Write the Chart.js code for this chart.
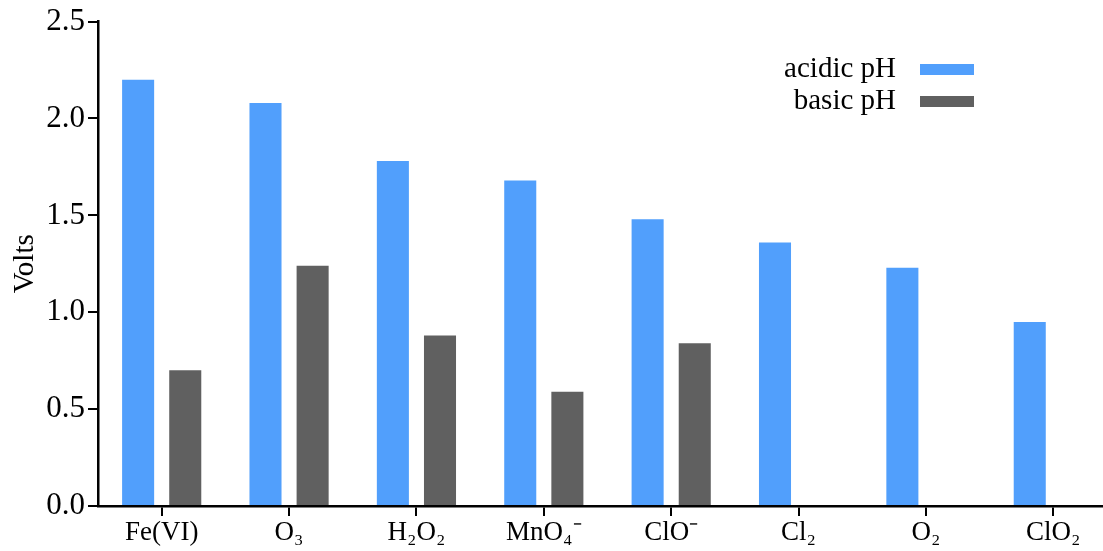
<!DOCTYPE html>
<html>
<head>
<meta charset="utf-8">
<script src="https://cdn.jsdelivr.net/npm/chart.js@4/dist/chart.umd.min.js"></script>
<style>
  html, body { margin: 0; padding: 0; background: #fff; overflow: hidden; }
  #wrap { width: 1120px; height: 551px; }
</style>
</head>
<body>
<div id="wrap"><canvas id="chart" width="1120" height="551"></canvas></div>
<script>
const categories = ['Fe(VI)', 'O₃', 'H₂O₂', 'MnO₄⁻', 'ClO⁻', 'Cl₂', 'O₂', 'ClO₂'];
const acidicValues = [2.20, 2.08, 1.78, 1.68, 1.48, 1.36, 1.23, 0.95];
const basicValues = [0.70, 1.24, 0.88, 0.59, 0.84, null, null, null];
const yTicks = [0, 0.5, 1.0, 1.5, 2.0, 2.5];

const serif = '"Liberation Serif", "Times New Roman", serif';

// legend drawn as text on the left, colour bar on the right
const sideLegend = {
    id: 'sideLegend',
    afterDraw(chart) {
        const ctx = chart.ctx;
        const rows = [69, 101];
        ctx.save();
        ctx.font = '29px ' + serif;
        ctx.textAlign = 'right';
        ctx.textBaseline = 'middle';
        chart.data.datasets.forEach((ds, i) => {
            ctx.fillStyle = '#000';
            ctx.fillText(ds.label, 896, rows[i]);
            ctx.fillStyle = ds.backgroundColor;
            ctx.fillRect(920, rows[i] - 5, 54, 11);
        });
        ctx.restore();
    }
};

const ctx = document.getElementById('chart').getContext('2d');
new Chart(ctx, {
    type: 'bar',
    data: {
        labels: categories,
        datasets: [{
            label: 'acidic pH',
            data: acidicValues,
            backgroundColor: '#519FFC',
            categoryPercentage: 0.74,
            barPercentage: 0.68
        }, {
            label: 'basic pH',
            data: basicValues,
            backgroundColor: '#606060',
            categoryPercentage: 0.74,
            barPercentage: 0.68
        }]
    },
    options: {
        responsive: false,
        animation: false,
        layout: { padding: { top: 8, right: 3, left: 0, bottom: 0 } },
        plugins: {
            legend: { display: false },
            tooltip: { enabled: false }
        },
        scales: {
            x: {
                grid: {
                    offset: false,
                    drawOnChartArea: false,
                    tickLength: 10,
                    tickColor: '#000',
                    lineWidth: 2
                },
                border: { color: '#000', width: 2.5 },
                ticks: {
                    color: '#000',
                    font: { family: serif, size: 27 },
                    padding: 1,
                    maxRotation: 0,
                    autoSkip: false
                },
                afterFit(scale) { scale.height = 45; }
            },
            y: {
                min: 0,
                max: 2.5,
                afterBuildTicks(scale) {
                    scale.ticks = yTicks.map(v => ({ value: v }));
                },
                grid: {
                    drawOnChartArea: false,
                    tickLength: 10,
                    tickColor: '#000',
                    lineWidth: 2
                },
                border: { color: '#000', width: 2.5 },
                ticks: {
                    color: '#000',
                    font: { family: serif, size: 31 },
                    padding: 3,
                    callback: v => v.toFixed(1)
                },
                title: {
                    display: true,
                    text: 'Volts',
                    color: '#000',
                    font: { family: serif, size: 29 },
                    padding: { top: 8, bottom: 0 }
                },
                afterFit(scale) { scale.width = 98; }
            }
        }
    },
    plugins: [sideLegend]
});
</script>
</body>
</html>
